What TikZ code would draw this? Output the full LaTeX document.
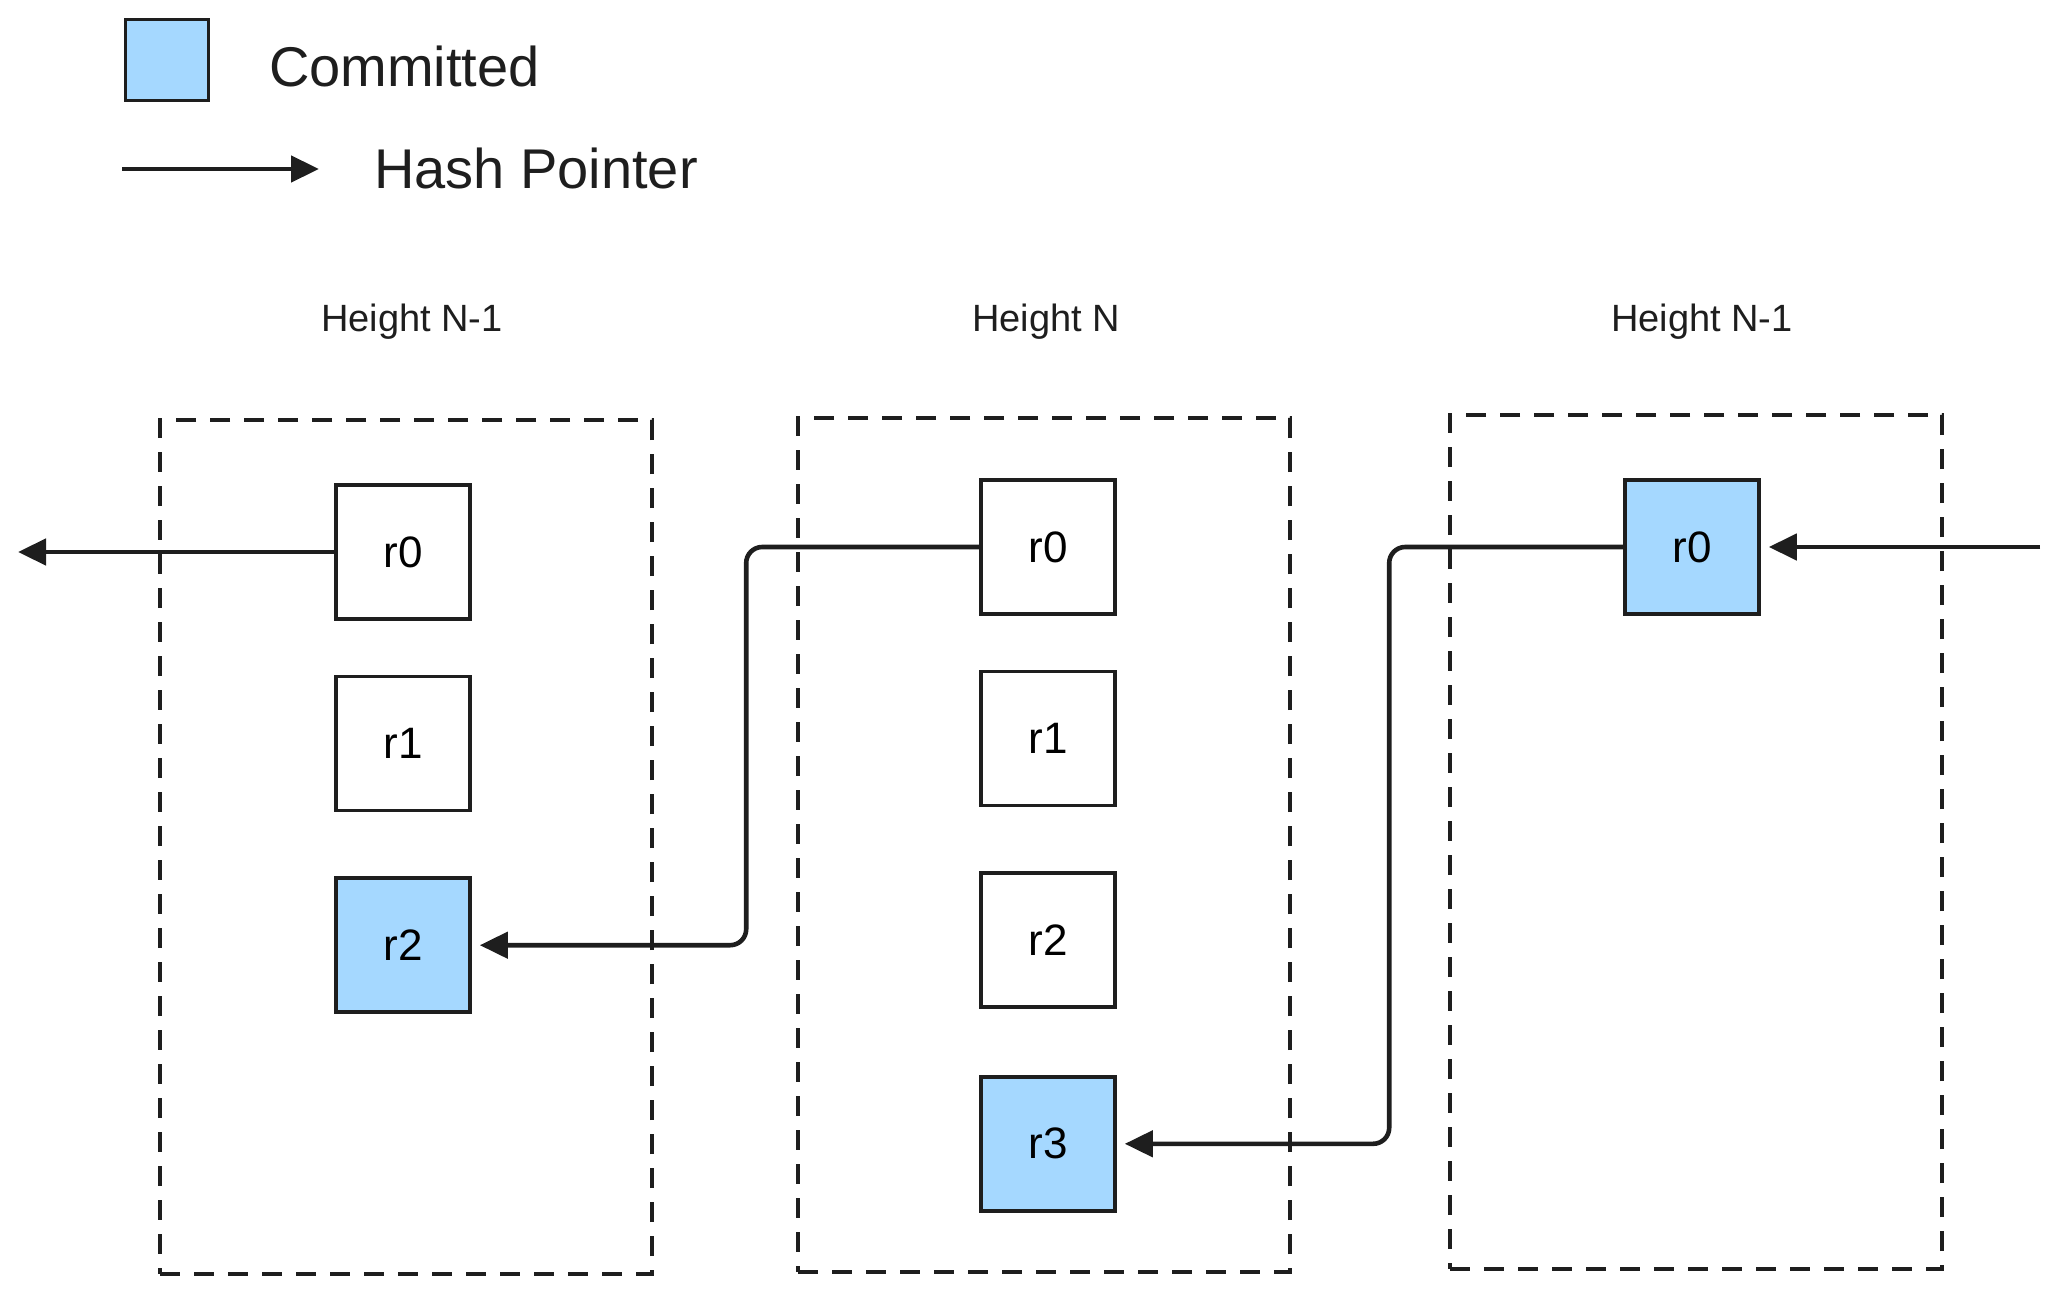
\documentclass[tikz,border=0pt]{standalone}
\usepackage{fontspec}
\setmainfont{Liberation Sans}
\usepackage{tikz}
\usetikzlibrary{arrows.meta,positioning}
\usepackage{xcolor}
\definecolor{ink}{HTML}{1E1E1E}
\definecolor{commit}{HTML}{A5D8FF}
\tikzset{
  rowbox/.style={draw=ink,line width=1.8pt,fill=white,minimum width=67pt,
    minimum height=67pt,inner sep=0pt,font=\fontsize{22}{26}\selectfont},
  commitbox/.style={rowbox,fill=commit},
  heightgroup/.style={draw=ink,line width=1.7pt,dash pattern=on 10pt off 7pt,
    minimum width=246pt,minimum height=427pt,inner sep=0pt},
  grouplabel/.style={font=\fontsize{19}{23}\selectfont,text=ink},
  legendtext/.style={anchor=west,font=\fontsize{28}{32}\selectfont,text=ink},
  hashptr/.style={-{Triangle[length=14pt,width=13pt]},draw=ink,line width=2.3pt,
    rounded corners=8pt,shorten >=4pt}
}
\begin{document}
\begin{tikzpicture}[x=0.5pt,y=-0.5pt,node distance=29pt]
  \useasboundingbox (0,0) rectangle (2057,1295);
  % legend
  \node[commitbox,minimum width=41.5pt,minimum height=40.5pt] (legbox) at (167,60) {};
  \node[legendtext] (legcommit) at (262,66) {Committed};
  \coordinate (lega) at (122,169);
  \coordinate (legb) at (319,169);
  \draw[hashptr,shorten >=0pt] (lega) -- (legb);
  \node[legendtext] (legptr) at (367,168) {Hash Pointer};
  % height groups
  \node[heightgroup] (g1) at (406,847) {};
  \node[heightgroup] (g2) at (1044,845) {};
  \node[heightgroup] (g3) at (1696,842) {};
  \node[grouplabel] (h1) at (412,322) {Height N-1};
  \node[grouplabel] (h2) at (1046,322) {Height N};
  \node[grouplabel] (h3) at (1702,322) {Height N-1};
  % rounds
  \node[rowbox] (a0) at (403,552) {r0};
  \node[rowbox,below=27pt of a0] (a1) {r1};
  \node[commitbox,below=32pt of a1] (a2) {r2};
  \node[rowbox] (b0) at (1048,547) {r0};
  \node[rowbox,below=27pt of b0] (b1) {r1};
  \node[rowbox,below=32pt of b1] (b2) {r2};
  \node[commitbox,below=33pt of b2] (b3) {r3};
  \node[commitbox] (c0) at (1692,547) {r0};
  % hash pointers
  \coordinate (leftend) at (18,552);
  \coordinate (rightstart) at (2040,547);
  \draw[hashptr,shorten >=0pt] (a0.west) -- (leftend);
  \draw[hashptr] (b0.west) -- ++(-233,0) |- (a2.east);
  \draw[hashptr] (c0.west) -- ++(-234,0) |- (b3.east);
  \draw[hashptr] (rightstart) -- (c0.east);
\end{tikzpicture}
\end{document}
